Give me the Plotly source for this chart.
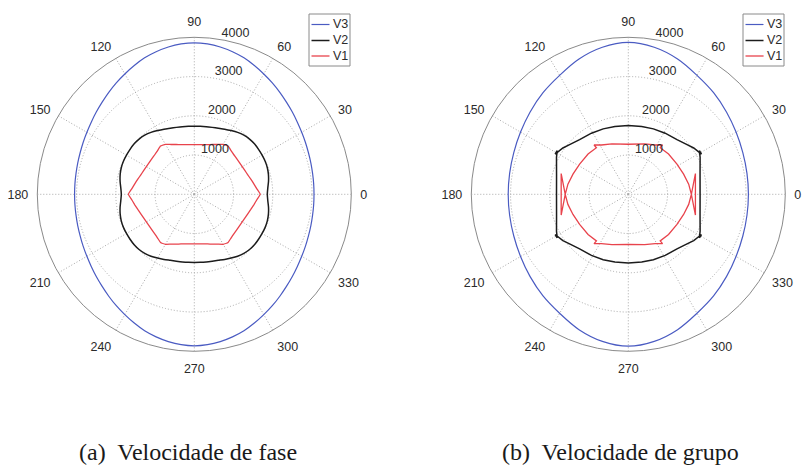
import plotly.graph_objects as go

W, H = 807, 467

# Angular tick labels (degrees)
angle_ticks = list(range(0, 360, 30))
radial_ticks = [1000, 2000, 3000, 4000]

# ---- Phase velocity: first-quadrant samples, curves are symmetric about both axes
theta_q = [0, 5, 10, 15, 20, 25, 30, 35, 40, 45, 50, 55, 60, 65, 70, 75, 80, 85, 90]
phase_v3 = [3050, 3053, 3060, 3075, 3095, 3125, 3160, 3205, 3260, 3320, 3390, 3465,
            3540, 3620, 3700, 3760, 3810, 3845, 3860]
phase_v2 = [1860, 1880, 1920, 1955, 1980, 1992, 1995, 1998, 2000, 1990, 1965, 1925,
            1875, 1830, 1790, 1765, 1750, 1740, 1735]
phase_v1 = [1680, 1600, 1540, 1490, 1450, 1425, 1410, 1405, 1410, 1425, 1455, 1500,
            1470, 1400, 1350, 1310, 1285, 1270, 1265]

# ---- Group velocity
group_theta_v3 = [0, 10, 20, 30, 40, 50, 60, 70, 80, 90]
group_v3 = [3060, 3070, 3105, 3170, 3265, 3380, 3500, 3670, 3805, 3870]

# right half of the V2 and V1 group-velocity paths, traced from top (90) to bottom (-90)
group_theta_v2 = [90, 78.8, 69, 58.9, 48.3, 40.2, 35.3, 28.8, 31.5, 27.2, 15.7, 0,
                  -15.7, -27.2, -31.5, -28.8, -35.3, -40.2, -48.3, -58.9, -69, -78.8, -90]
group_v2 = [1752, 1760, 1786, 1818, 1865, 1959, 2042, 2127, 2125, 2057, 1899, 1829,
            1899, 2057, 2125, 2127, 2042, 1959, 1865, 1818, 1786, 1760, 1752]

group_theta_v1 = [90, 72, 61.4, 55.2, 55.6, 45, 31.8, 20, 9.5, 0, -17.2, 17.2, 0,
                  -9.5, -20, -31.8, -45, -55.6, -55.2, -61.4, -72, -90]
group_v1 = [1275, 1350, 1430, 1529, 1438, 1450, 1459, 1500, 1560, 1607, 1790, 1790, 1607,
            1560, 1500, 1459, 1450, 1438, 1529, 1430, 1350, 1275]

series_names = ["V3", "V2", "V1"]
colors = {"V3": "#4a5bc2", "V2": "#1c1c1c", "V1": "#e8434c"}
widths = {"V3": 1.2, "V2": 1.5, "V1": 1.3}
phase_smoothing = {"V3": 0.8, "V2": 0.8, "V1": 0.3}

captions = ["(a)\u00a0 Velocidade de fase", "(b)\u00a0 Velocidade de grupo"]


def mirror_quadrant(th, r):
    """Extend a 0-90 degree sample set to a closed 0-360 curve."""
    t = (list(th) + [180 - a for a in th[::-1][1:]]
         + [180 + a for a in th[1:]] + [360 - a for a in th[::-1][1:]])
    rr = list(r) + list(r[::-1][1:]) + list(r[1:]) + list(r[::-1][1:])
    return t, rr


def mirror_half(th, r):
    """Close a right-half path (top to bottom) with its left-half mirror image."""
    t = list(th) + [180 - a for a in th[::-1][1:]]
    rr = list(r) + list(r[::-1][1:])
    return t, rr


fig = go.Figure()

phase = {"V3": phase_v3, "V2": phase_v2, "V1": phase_v1}
for name in series_names:
    t, r = mirror_quadrant(theta_q, phase[name])
    fig.add_trace(go.Scatterpolar(
        r=r, theta=t, mode="lines", name=name, subplot="polar",
        line=dict(color=colors[name], width=widths[name], shape="spline",
                  smoothing=phase_smoothing[name]),
        showlegend=False))

t3, r3 = mirror_quadrant(group_theta_v3, group_v3)
t2, r2 = mirror_half(group_theta_v2, group_v2)
t1, r1 = mirror_half(group_theta_v1, group_v1)
for name, t, r, shape in [("V3", t3, r3, "spline"), ("V2", t2, r2, "linear"),
                          ("V1", t1, r1, "linear")]:
    fig.add_trace(go.Scatterpolar(
        r=r, theta=t, mode="lines", name=name, subplot="polar2",
        line=dict(color=colors[name], width=widths[name], shape=shape),
        showlegend=False))

# radial tick labels
label_font = dict(family="Liberation Sans, Arial, Helvetica, sans-serif", size=12.5,
                  color="#2b2b2b")
for sp in ["polar", "polar2"]:
    fig.add_trace(go.Scatterpolar(
        r=radial_ticks, theta=[80] * len(radial_ticks), mode="text",
        text=[str(v) for v in radial_ticks], textposition="top right",
        textfont=label_font, cliponaxis=False, subplot=sp, showlegend=False,
        hoverinfo="skip"))

R = 157.0
centers = [(194.3, 194.3), (628.3, 194.3)]
grid_dash = "1px,2px"


def polar_layout(cx, cy):
    return dict(
        domain=dict(x=[(cx - R) / W, (cx + R) / W], y=[1 - (cy + R) / H, 1 - (cy - R) / H]),
        bgcolor="white",
        radialaxis=dict(range=[0, 4000], tickvals=radial_ticks[:-1], showticklabels=False,
                        ticks="", showline=False, gridcolor="#a8a8a8", griddash=grid_dash,
                        gridwidth=1),
        angularaxis=dict(rotation=0, direction="counterclockwise", tickmode="array",
                         tickvals=angle_ticks, ticktext=[str(a) for a in angle_ticks],
                         ticks="outside", ticklen=6, tickcolor="rgba(0,0,0,0)",
                         showline=True, linecolor="#8a8a8a", linewidth=1,
                         gridcolor="#a8a8a8", griddash=grid_dash, gridwidth=1,
                         tickfont=label_font),
    )


shapes = []
annotations = []


def X(x):
    return x / W


def Y(y):
    return 1 - y / H


# hand-drawn legend boxes
legend_rows = [24.5, 40.5, 56.0]
for cx, _ in centers:
    off = cx - centers[0][0]
    shapes.append(dict(type="rect", xref="paper", yref="paper",
                       x0=X(309 + off), x1=X(350 + off), y0=Y(66), y1=Y(14),
                       line=dict(color="#8a8a8a", width=1), fillcolor="white", layer="above"))
    for name, yy in zip(series_names, legend_rows):
        shapes.append(dict(type="line", xref="paper", yref="paper",
                           x0=X(311.5 + off), x1=X(329.5 + off), y0=Y(yy), y1=Y(yy),
                           line=dict(color=colors[name], width=widths[name]), layer="above"))
        annotations.append(dict(text=name, xref="paper", yref="paper", x=X(330.5 + off),
                                y=Y(yy), xanchor="left", yanchor="middle", showarrow=False,
                                font=label_font))

caption_font = dict(family="Liberation Serif, Times New Roman, serif", size=24,
                    color="#1a1a1a")
for xc, txt in zip([187.5, 620.0], captions):
    annotations.append(dict(text=txt, xref="paper", yref="paper", x=X(xc), y=Y(452),
                            xanchor="center", yanchor="middle", showarrow=False,
                            font=caption_font))

fig.update_layout(
    width=W, height=H, margin=dict(l=0, r=0, t=0, b=0),
    paper_bgcolor="white", plot_bgcolor="white",
    polar=polar_layout(*centers[0]), polar2=polar_layout(*centers[1]),
    shapes=shapes, annotations=annotations, showlegend=False,
)

fig.write_html("out.html")
